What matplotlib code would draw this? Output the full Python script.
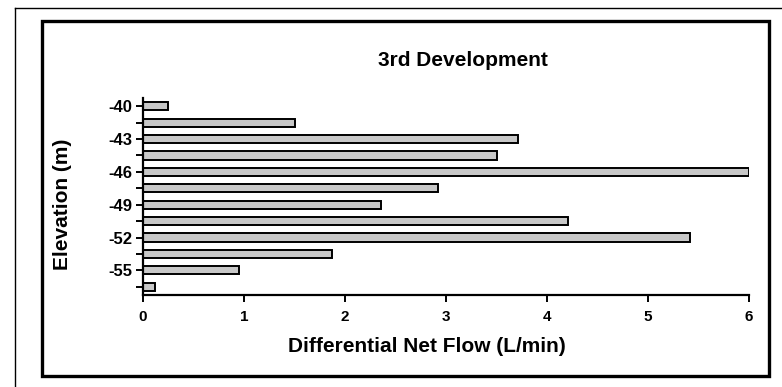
import matplotlib
matplotlib.use("Agg")
import matplotlib.pyplot as plt
from matplotlib.lines import Line2D
from matplotlib.patches import Rectangle

plt.rcParams['font.family'] = ['Liberation Sans', 'DejaVu Sans']

# Data
elevations = [-40, -41.5, -43, -44.5, -46, -47.5, -49, -50.5, -52, -53.5, -55, -56.5]
flows = [0.25, 1.50, 3.71, 3.50, 6.00, 2.92, 2.36, 4.21, 5.42, 1.87, 0.95, 0.12]
x_ticks = [0, 1, 2, 3, 4, 5, 6]
title = "3rd Development"
xlabel = "Differential Net Flow (L/min)"
ylabel = "Elevation (m)"

W, H = 782, 387
fig = plt.figure(figsize=(W / 100, H / 100), dpi=100)
fig.patch.set_facecolor('white')

ax = fig.add_axes([143 / W, 1 - 295 / H, (749 - 143) / W, (295 - 98) / H])

pos = list(range(len(elevations)))
ax.barh(pos, flows, height=0.5, color='#c8c8c8', edgecolor='black', linewidth=1.4)

ax.set_ylim(len(elevations) - 0.5, -0.5)
ax.set_xlim(0, 6)

ax.set_yticks(pos)
ax.set_yticklabels([f"{e:g}" if i % 2 == 0 else "" for i, e in enumerate(elevations)],
                   fontsize=12, fontweight='bold')
ax.set_xticks(x_ticks)
ax.set_xticklabels([str(t) for t in x_ticks], fontsize=11, fontweight='bold')

for s in ['top', 'right']:
    ax.spines[s].set_visible(False)
for s in ['left', 'bottom']:
    ax.spines[s].set_linewidth(1.6)
    ax.spines[s].set_color('black')
ax.tick_params(axis='both', direction='out', length=5, width=1.4, colors='black')
ax.tick_params(axis='x', pad=6)
ax.tick_params(axis='y', pad=3)

# Axis labels and title placed in figure pixel coordinates
fig.text(427 / W, 1 - 347 / H, xlabel, ha='center', va='center',
         fontsize=15, fontweight='bold')
fig.text(62 / W, 1 - 204 / H, ylabel, ha='center', va='center', rotation=90,
         fontsize=15, fontweight='bold')
fig.text(463 / W, 1 - 61 / H, title, ha='center', va='center',
         fontsize=15, fontweight='bold')

# Outer thin frame (left and top)
fig.add_artist(Line2D([15 / W, 15 / W], [0, 1 - 7.5 / H], transform=fig.transFigure,
                      color='black', linewidth=1.0))
fig.add_artist(Line2D([15 / W, 1], [1 - 7.5 / H, 1 - 7.5 / H], transform=fig.transFigure,
                      color='black', linewidth=1.0))
# Inner thick frame
fig.add_artist(Rectangle((42 / W, 1 - 376 / H), (769 - 42) / W, (376 - 21) / H,
                         transform=fig.transFigure, fill=False, edgecolor='black',
                         linewidth=2.4))

fig.savefig("out.png", dpi=100, facecolor='white')
